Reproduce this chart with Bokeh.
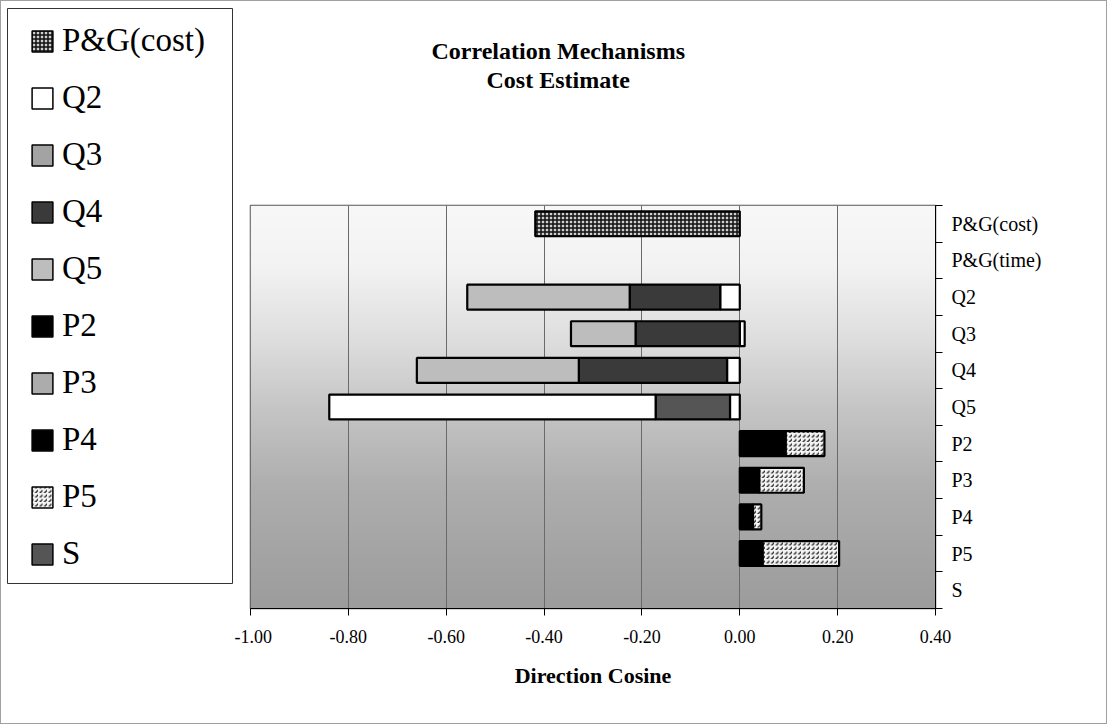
import numpy as np
from bokeh.plotting import figure
from bokeh.layouts import row
from bokeh.models import (Range1d, FixedTicker, Legend, LegendItem, Title,
                          ColumnDataSource, NumeralTickFormatter)
from bokeh.embed import file_html
from bokeh.resources import INLINE

# ---------------- data ----------------
categories = ["P&G(cost)", "P&G(time)", "Q2", "Q3", "Q4", "Q5",
              "P2", "P3", "P4", "P5", "S"]

pg_cost = [-0.418, 0, 0, 0, 0, 0, 0, 0, 0, 0, 0]
pg_time = [0, 0, -0.040, 0.010, -0.026, -0.020, 0, 0, 0, 0, 0]
q2 = [0, 0, 0, 0, 0, -0.667, 0, 0, 0, 0, 0]
q3 = [0, 0, 0, 0, 0, 0, 0, 0, 0, 0, 0]
q4 = [0, 0, -0.185, -0.213, -0.303, 0, 0, 0, 0, 0, 0]
q5 = [0, 0, -0.332, -0.132, -0.331, 0, 0, 0, 0, 0, 0]
p2 = [0, 0, 0, 0, 0, 0, 0, 0.040, 0.027, 0.047, 0]
p3 = [0, 0, 0, 0, 0, 0, 0, 0, 0, 0, 0]
p4 = [0, 0, 0, 0, 0, 0, 0.094, 0, 0, 0, 0]
p5 = [0, 0, 0, 0, 0, 0, 0.079, 0.091, 0.017, 0.156, 0]
s = [0, 0, 0, 0, 0, -0.152, 0, 0, 0, 0, 0]

x_ticks = [-1.0, -0.8, -0.6, -0.4, -0.2, 0.0, 0.2, 0.4]

title_lines = ["Correlation Mechanisms", "Cost Estimate"]
x_label = "Direction Cosine"

legend_order = ["P&G(cost)", "Q2", "Q3", "Q4", "Q5", "P2", "P3", "P4", "P5", "S"]
stack_order = ["P&G(time)", "P&G(cost)", "P2", "P4", "Q4", "S", "Q3", "Q5", "P3", "P5", "Q2"]

series = {
    "P&G(cost)": pg_cost, "P&G(time)": pg_time, "Q2": q2, "Q3": q3, "Q4": q4,
    "Q5": q5, "P2": p2, "P3": p3, "P4": p4, "P5": p5, "S": s,
}

styles = {
    "P&G(time)": dict(fill_color="white"),
    "P&G(cost)": dict(fill_color="#cfcfcf", hatch_pattern="+", hatch_color="#111111",
                      hatch_scale=4, hatch_weight=1.5),
    "Q2": dict(fill_color="white"),
    "Q3": dict(fill_color="#a3a3a3"),
    "Q4": dict(fill_color="#3a3a3a"),
    "Q5": dict(fill_color="#bdbdbd"),
    "P2": dict(fill_color="#000000"),
    "P3": dict(fill_color="#acacac"),
    "P4": dict(fill_color="#000000"),
    "P5": dict(fill_color="#f4f4f4", hatch_pattern="right_diagonal_dash",
               hatch_color="#222222", hatch_scale=4.5, hatch_weight=1.3),
    "S": dict(fill_color="#555555"),
}

FONT = "Liberation Serif"
n = len(categories)
ypos = [n - 0.5 - i for i in range(n)]

# ---------------- stacked segments ----------------
pos = [0.0] * n
neg = [0.0] * n
sources = {}
for name in stack_order:
    rows = []
    for i, v in enumerate(series[name]):
        if v >= 0:
            lo, hi = pos[i], pos[i] + v
            pos[i] += v
        else:
            lo, hi = neg[i] + v, neg[i]
            neg[i] += v
        rows.append((v == 0, ypos[i], lo, hi, 0.0 if v == 0 else 1.0))
    rows.sort(key=lambda t: t[0])          # non-empty segments first
    sources[name] = ColumnDataSource(dict(y=[r[1] for r in rows],
                                          left=[r[2] for r in rows],
                                          right=[r[3] for r in rows],
                                          la=[r[4] for r in rows]))

# ---------------- main figure ----------------
p = figure(width=872, height=722, output_backend="svg", toolbar_location=None,
           x_range=Range1d(x_ticks[0], x_ticks[-1]), y_range=Range1d(0, n),
           y_axis_location="right",
           min_border_left=16, min_border_right=171,
           min_border_top=204, min_border_bottom=115)
p.frame_align = False
p.background_fill_color = "white"
p.border_fill_color = "white"
p.outline_line_color = "#555555"
p.outline_line_width = 1.5

# gradient background of the plotting area
grad_t = np.linspace(0, 1, 300)
grad_v = np.interp(grad_t, [0, 0.15, 0.35, 0.5, 0.7, 1.0],
                   [248, 243, 220, 198, 174, 156])[::-1]
img = np.zeros((300, 2), dtype=np.uint32)
view = img.view(dtype=np.uint8).reshape((300, 2, 4))
for ch in range(3):
    view[:, :, ch] = grad_v[:, None].astype(np.uint8)
view[:, :, 3] = 255
p.image_rgba(image=[img], x=x_ticks[0], y=0, dw=x_ticks[-1] - x_ticks[0], dh=n,
             level="image")

for name in stack_order:
    p.hbar(y="y", left="left", right="right", height=0.68, source=sources[name],
           line_color="black", line_width=2.2, line_alpha="la", **styles[name])

p.xgrid.ticker = FixedTicker(ticks=x_ticks)
p.xgrid.grid_line_color = "#6a6a6a"
p.xgrid.grid_line_width = 1
p.ygrid.visible = False

xa = p.xaxis[0]
xa.ticker = FixedTicker(ticks=x_ticks)
xa.formatter = NumeralTickFormatter(format="0.00")
xa.axis_label = x_label
xa.axis_label_text_font = FONT
xa.axis_label_text_font_style = "bold"
xa.axis_label_text_font_size = "22px"
xa.axis_label_text_color = "black"
xa.axis_label_standoff = 17
xa.major_label_text_font = FONT
xa.major_label_text_font_size = "18px"
xa.major_label_text_color = "black"
xa.major_label_standoff = 14
xa.major_tick_out = 7
xa.major_tick_in = 0
xa.minor_tick_out = 0
xa.axis_line_color = "black"
xa.major_tick_line_color = "black"

ya = p.yaxis[0]
ya.ticker = FixedTicker(ticks=ypos, minor_ticks=list(range(0, n + 1)))
ya.major_label_overrides = {yv: c for yv, c in zip(ypos, categories)}
ya.major_label_text_font = FONT
ya.major_label_text_font_size = "20px"
ya.major_label_text_color = "black"
ya.major_tick_out = 0
ya.major_tick_in = 0
ya.minor_tick_out = 7
ya.minor_tick_in = 0
ya.minor_tick_line_color = "black"
ya.axis_line_color = "black"
ya.major_label_standoff = 9

# two-line title (spacer title keeps it high above the plot area)
p.add_layout(Title(text=" ", standoff=85, text_font=FONT, text_font_size="24px"), "above")
p.add_layout(Title(text=title_lines[1], align="left", offset=236, standoff=0,
                   text_font=FONT, text_font_style="bold", text_font_size="24px",
                   text_color="black"), "above")
p.add_layout(Title(text=title_lines[0], align="left", offset=181, standoff=1,
                   text_font=FONT, text_font_style="bold", text_font_size="24px",
                   text_color="black"), "above")

# ---------------- legend figure (left); its frame outline is the legend box ----------------
lf = figure(width=233, height=722, output_backend="svg", toolbar_location=None,
            x_range=Range1d(2, 3), y_range=Range1d(0, n),
            x_axis_location=None, y_axis_location=None,
            min_border_left=6, min_border_right=2, min_border_top=7,
            min_border_bottom=140)
lf.frame_align = False
lf.outline_line_color = "#333333"
lf.outline_line_width = 1
lf.grid.visible = False
lf.background_fill_color = "white"
lf.border_fill_color = "white"
leg_r = {}
for name in legend_order:
    leg_r[name] = lf.hbar(y="y", left="left", right="right", height=0.68,
                          source=sources[name], line_color="black", line_width=1.5,
                          visible=False, **styles[name])

items = [LegendItem(label=name, renderers=[leg_r[name]]) for name in legend_order]
legend = Legend(items=items, location=(22, 11), orientation="vertical",
                label_text_font=FONT, label_text_font_size="33px",
                label_text_color="black", glyph_width=26, glyph_height=26,
                label_standoff=7, padding=0, spacing=20, margin=0,
                border_line_color=None, background_fill_alpha=0.0,
                inactive_fill_alpha=0.0)
lf.add_layout(legend)

layout = row(lf, p, styles={"border": "1px solid #a0a0a0"})
open("out.html", "w").write(file_html(layout, INLINE))
